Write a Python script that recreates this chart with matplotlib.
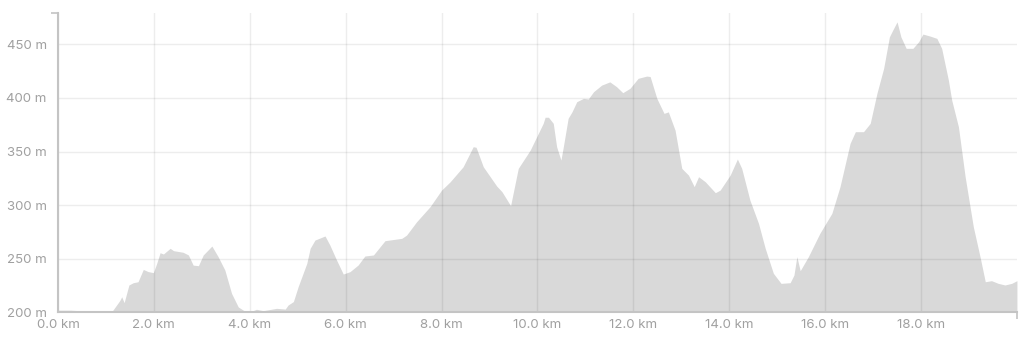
import numpy as np
import matplotlib.pyplot as plt
from matplotlib.ticker import FuncFormatter

# Профиль высот маршрута: расстояние (км) и высота (м)
dist_km = [0.00, 0.25, 0.67, 1.08, 1.13, 1.29, 1.33, 1.38, 1.48, 1.57, 1.67, 1.78,
           1.88, 1.99, 2.06, 2.13, 2.20, 2.34, 2.41, 2.61, 2.72, 2.82, 2.93, 3.03,
           3.21, 3.34, 3.48, 3.62, 3.76, 3.90, 4.01, 4.14, 4.28, 4.56, 4.74, 4.80,
           4.91, 5.01, 5.19, 5.26, 5.36, 5.57, 5.67, 5.81, 5.95, 6.09, 6.26, 6.40,
           6.58, 6.82, 7.17, 7.27, 7.48, 7.76, 8.00, 8.18, 8.45, 8.66, 8.72, 8.87,
           9.15, 9.26, 9.44, 9.60, 9.85, 10.12, 10.16, 10.23, 10.33, 10.40, 10.49,
           10.54, 10.64, 10.72, 10.82, 10.96, 11.06, 11.17, 11.34, 11.51, 11.65,
           11.78, 11.93, 12.10, 12.28, 12.35, 12.49, 12.64, 12.73, 12.87, 13.01,
           13.15, 13.27, 13.36, 13.50, 13.71, 13.81, 14.02, 14.17, 14.26, 14.43,
           14.61, 14.75, 14.92, 15.08, 15.27, 15.35, 15.41, 15.48, 15.65, 15.89,
           16.14, 16.31, 16.52, 16.63, 16.80, 16.94, 17.08, 17.22, 17.34, 17.41,
           17.50, 17.58, 17.69, 17.83, 17.95, 18.04, 18.19, 18.33, 18.43, 18.57,
           18.64, 18.78, 18.92, 19.09, 19.23, 19.34, 19.47, 19.61, 19.75, 19.89, 20.00]
elev_m = [202, 202, 201, 200.5, 201, 211, 214.5, 209, 225.5, 227.6, 228.5, 240,
          238, 237, 245.7, 255.6, 254.4, 259.7, 257.5, 256, 253.5, 244, 243.5, 253.5,
          261.8, 251.9, 239.5, 217.7, 205, 201, 200.5, 202.8, 201.5, 203.7, 203, 206.8,
          210, 224, 245.7, 259.7, 267.4, 271.2, 262.8, 248.8, 235.7, 237.9, 244.1, 252.5,
          253.5, 266.8, 269, 272, 284.5, 298.5, 314, 321.8, 335.8, 354.5, 354, 335.8,
          317.8, 312.5, 299.5, 334.3, 351.4, 376.3, 382, 382, 376.3, 354.5, 342,
          354.5, 381, 387, 396.5, 399.6, 399, 405.8, 412, 415, 410.5,
          404.9, 409, 418.3, 420.4, 420, 399.6, 385.6, 387, 370, 334.3,
          328, 317.2, 326.5, 321.8, 311.6, 314, 328, 343, 334.3, 304.8,
          283, 259.7, 236.4, 227, 227.6, 234.8, 251.9, 238.8, 251.9, 273.7,
          292.3, 317.2, 357.6, 368.5, 368.5, 376.3, 404.3, 427.6, 457, 463.3,
          471, 457, 446.3, 446.3, 452.4, 459.6, 457.7, 455.6, 446.3, 416.7,
          398, 373.1, 326.5, 279.9, 251.9, 228.5, 229.5, 227, 225.5, 227, 229.5]

x_ticks = np.arange(0, 20, 2.0)
y_ticks = [200, 250, 300, 350, 400, 450]

plt.rcParams['font.family'] = ['Inter', 'DejaVu Sans']

fig = plt.figure(figsize=(10.24, 3.46), dpi=100)
ax = fig.add_axes([0.0566, 0.0974, 0.9365, 0.8642])

ax.fill_between(dist_km, 200, elev_m, color='#d9d9d9', linewidth=0, zorder=1)

ax.set_xlim(0, 20)
ax.set_ylim(200, 479)
ax.set_xticks(x_ticks)
ax.set_yticks(y_ticks)
ax.xaxis.set_major_formatter(FuncFormatter(lambda v, p: f'{v:.1f} km'))
ax.yaxis.set_major_formatter(FuncFormatter(lambda v, p: f'{v:.0f} m'))

ax.grid(True, color='black', alpha=0.07, linewidth=1, zorder=2)
ax.set_axisbelow(False)

for side in ['top', 'right']:
    ax.spines[side].set_visible(False)
for side in ['left', 'bottom']:
    ax.spines[side].set_color('#c4c4c4')
    ax.spines[side].set_linewidth(1.5)
    ax.spines[side].set_zorder(3)

ax.tick_params(axis='both', length=0, labelsize=9.5, labelcolor='#a0a0a0')
ax.tick_params(axis='y', pad=8)
ax.tick_params(axis='x', pad=5)
ax.set_xticks([0, 20], minor=True)
ax.set_yticks([200, 479], minor=True)
ax.tick_params(which='minor', length=5, width=1.2, color='#c4c4c4')

plt.savefig('out.png', dpi=100)
